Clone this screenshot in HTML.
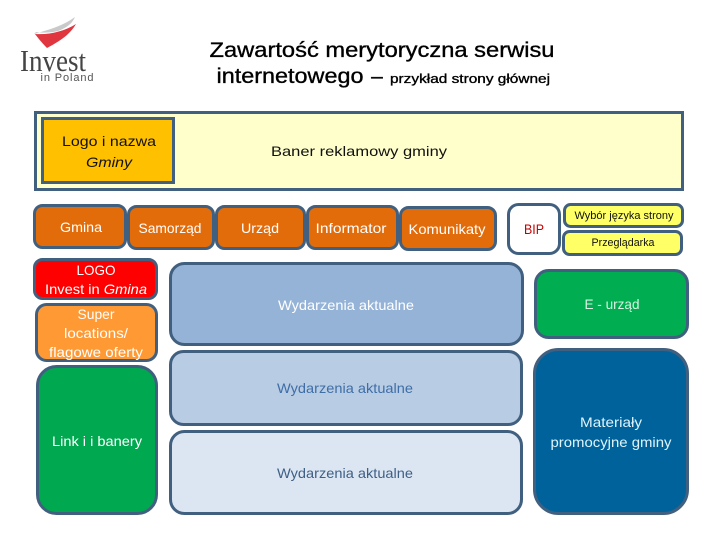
<!DOCTYPE html>
<html lang="pl"><head><meta charset="utf-8"><title>Zawartość merytoryczna serwisu</title>
<style>html,body{margin:0;padding:0;background:#fff}svg{display:block}
text{font-family:"Liberation Sans",sans-serif;text-anchor:middle;font-size:14px}
.w{fill:#fff}.b{fill:#111}</style></head><body>
<svg xmlns="http://www.w3.org/2000/svg" width="720" height="540" viewBox="0 0 720 540">
<rect width="720" height="540" fill="#fff"/>
<g stroke="#41607f" stroke-width="3">
<rect x="35.500" y="112.500" width="647" height="77" fill="#ffffcc"/>
<rect x="42.500" y="118.500" width="131" height="64" fill="#ffc000"/>
<g fill="#e36c0a">
<rect x="34.500" y="205.500" width="91" height="42" rx="8"/>
<rect x="128.500" y="206.500" width="85" height="42" rx="8"/>
<rect x="216.500" y="206.500" width="88" height="42" rx="8"/>
<rect x="307.500" y="206.500" width="90" height="42" rx="8"/>
<rect x="400.500" y="207.500" width="95" height="42" rx="8"/>
</g>
<rect x="508.500" y="204.500" width="51" height="49" rx="10" fill="#fff"/>
<rect x="564.500" y="204.500" width="118" height="22" rx="6" fill="#ffff66"/>
<rect x="563.500" y="231.500" width="118" height="23" rx="6" fill="#ffff66"/>
<rect x="34.500" y="259.500" width="122" height="39" rx="8" fill="#ff0000"/>
<rect x="36.500" y="304.500" width="120" height="56" rx="10" fill="#ff9933"/>
<rect x="37.500" y="366.500" width="119" height="147" rx="19" fill="#00a850"/>
<rect x="170.500" y="263.500" width="352" height="81" rx="14" fill="#95b3d7"/>
<rect x="170.500" y="351.500" width="351" height="73" rx="13" fill="#b8cce4"/>
<rect x="170.500" y="431.500" width="351" height="82" rx="14" fill="#dce6f2"/>
<rect x="535.500" y="270.500" width="152" height="67" rx="13" fill="#00ad50"/>
<rect x="534.500" y="349.500" width="153" height="164" rx="24" fill="#00629b"/>
</g>
<path d="M34 34 C48 30 63 26 75 17 C72 24 66 28 58 31 C50 33 42 33 36 32Z" fill="#c9c9c9"/>
<path d="M35 34 C50 35 65 31 76 24 C70 34 62 40 47 48 C42 43 38 38 35 34Z" fill="#e0363f"/>
<text x="53" y="71" style="font-family:'Liberation Serif',serif;font-size:31px" fill="#444" textLength="66" lengthAdjust="spacingAndGlyphs">Invest</text>
<text x="67" y="81" style="font-size:11px" fill="#555" textLength="53" lengthAdjust="spacing">in Poland</text>
<g fill="#000" stroke="#000" stroke-width=".35">
<text x="382" y="57" style="font-size:21px" textLength="345" lengthAdjust="spacingAndGlyphs">Zawartość merytoryczna serwisu</text>
<text x="290" y="83" style="font-size:21px" textLength="147" lengthAdjust="spacingAndGlyphs">internetowego</text>
<text x="377" y="83" style="font-size:21px">–</text>
<text x="470" y="83" style="font-size:13px" textLength="160" lengthAdjust="spacingAndGlyphs">przykład strony głównej</text>
</g>
<text class="b" x="109" y="146" textLength="94" lengthAdjust="spacingAndGlyphs">Logo i nazwa</text>
<text class="b" x="109" y="167" font-style="italic" textLength="46" lengthAdjust="spacingAndGlyphs">Gminy</text>
<text class="b" x="359" y="156" textLength="176" lengthAdjust="spacingAndGlyphs">Baner reklamowy gminy</text>
<text class="w" x="81" y="232" textLength="42" lengthAdjust="spacingAndGlyphs">Gmina</text>
<text class="w" x="170" y="233" textLength="63" lengthAdjust="spacingAndGlyphs">Samorząd</text>
<text class="w" x="260" y="233" textLength="38" lengthAdjust="spacingAndGlyphs">Urząd</text>
<text class="w" x="351" y="233" textLength="71" lengthAdjust="spacingAndGlyphs">Informator</text>
<text class="w" x="447" y="234" textLength="77" lengthAdjust="spacingAndGlyphs">Komunikaty</text>
<text x="534" y="234" fill="#c00000" textLength="20" lengthAdjust="spacingAndGlyphs">BIP</text>
<text class="b" x="624" y="219" style="font-size:11px" textLength="99" lengthAdjust="spacingAndGlyphs">Wybór języka strony</text>
<text class="b" x="623" y="246" style="font-size:11px" textLength="63" lengthAdjust="spacingAndGlyphs">Przeglądarka</text>
<text class="w" x="96" y="275" textLength="39" lengthAdjust="spacingAndGlyphs">LOGO</text>
<text class="w" x="96" y="294" textLength="102" lengthAdjust="spacingAndGlyphs">Invest in <tspan font-style="italic">Gmina</tspan></text>
<text class="w" x="96" y="319" textLength="37" lengthAdjust="spacingAndGlyphs">Super</text>
<text class="w" x="96" y="338" textLength="64" lengthAdjust="spacingAndGlyphs">locations/</text>
<text class="w" x="96" y="357" textLength="94" lengthAdjust="spacingAndGlyphs">flagowe oferty</text>
<text class="w" x="97" y="446" textLength="90" lengthAdjust="spacingAndGlyphs">Link i i banery</text>
<text class="w" x="346" y="310" textLength="136" lengthAdjust="spacingAndGlyphs">Wydarzenia aktualne</text>
<text x="345" y="393" fill="#3f6ea6" textLength="136" lengthAdjust="spacingAndGlyphs">Wydarzenia aktualne</text>
<text x="345" y="478" fill="#3f5f85" textLength="136" lengthAdjust="spacingAndGlyphs">Wydarzenia aktualne</text>
<text x="612" y="309" fill="#d8f2e2" textLength="55" lengthAdjust="spacingAndGlyphs">E - urząd</text>
<text x="611" y="427" fill="#dff4fb" textLength="62" lengthAdjust="spacingAndGlyphs">Materiały</text>
<text x="611" y="447" fill="#dff4fb" textLength="121" lengthAdjust="spacingAndGlyphs">promocyjne gminy</text>
</svg></body></html>
